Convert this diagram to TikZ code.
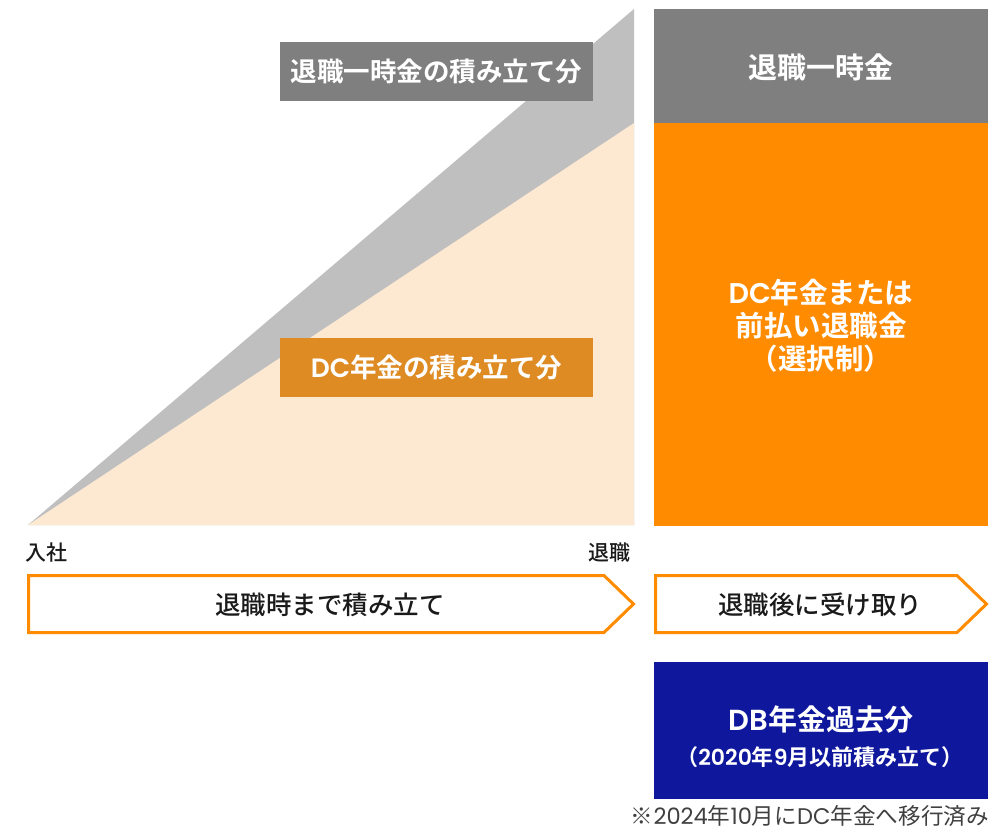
\documentclass[tikz,border=0pt]{standalone}
\usepackage{fontspec}
\newfontfamily\jp{Noto Sans CJK JP}
\newfontfamily\jpm{Noto Sans CJK JP Medium}
\newfontfamily\jpb{Noto Sans CJK JP Bold}
\newfontfamily\lat{Poppins}
\newfontfamily\latb{Poppins SemiBold}
\newcommand{\LM}[1]{{\latb #1}}
\newcommand{\LR}[1]{{\lat #1}}
\definecolor{dgray}{HTML}{7F7F7F}
\definecolor{lgray}{HTML}{BFBFBF}
\definecolor{peach}{HTML}{FDE8D2}
\definecolor{olabel}{HTML}{DE8B24}
\definecolor{obig}{HTML}{FF8C00}
\definecolor{dbblue}{HTML}{0F189C}
\definecolor{notegray}{HTML}{404040}
\definecolor{ink}{HTML}{1A1A1A}
\begin{document}
\begin{tikzpicture}[x=1pt,y=-1pt,
  wtext/.style={text=white,inner sep=0pt,align=center},
  btext/.style={text=ink,inner sep=0pt,align=center},
  arrowshape/.style={draw=obig,line width=3pt,line join=miter,fill=white}]
\useasboundingbox (0,0) rectangle (1003,831);
\fill[white] (0,0) rectangle (1003,831);
% accumulation triangles
\fill[lgray] (28,525) -- (634,9) -- (634,525) -- cycle;
\fill[peach] (28,525) -- (634,123) -- (634,525) -- cycle;
% labels on triangle
\fill[dgray] (280,42) rectangle (593,101);
\node[wtext,font=\jpb\fontsize{26.5}{30}\selectfont] (lumplabel) at (436.5,71.5) {退職一時金の積み立て分};
\fill[olabel] (280,338) rectangle (593,397);
\node[wtext,font=\jpb\fontsize{26.5}{30}\selectfont] (dclabel) at (436.5,367.5) {\LM{DC}年金の積み立て分};
% right column
\fill[dgray] (654,9) rectangle (988,123);
\node[wtext,font=\jpb\fontsize{29}{33}\selectfont] (lumpbox) at (821,67) {退職一時金};
\fill[obig] (654,123) rectangle (988,526);
\node[wtext,font=\jpb\fontsize{28.5}{33}\selectfont] (dcbox) at (821,326) {\LM{DC}年金または\\前払い退職金\\（選択制）};
% timeline labels
\node[btext,font=\jpm\fontsize{21}{24}\selectfont] (join) at (46,553) {入社};
\node[btext,font=\jpm\fontsize{21}{24}\selectfont] (retire) at (609.5,553) {退職};
% arrows
\draw[arrowshape] (28.5,575.5) -- (604,575.5) -- (633.5,604) -- (604,632.5) -- (28.5,632.5) -- cycle;
\node[btext,font=\jpm\fontsize{25.5}{29}\selectfont] (accum) at (330,605) {退職時まで積み立て};
\draw[arrowshape] (655.5,575.5) -- (957,575.5) -- (986.5,604) -- (957,632.5) -- (655.5,632.5) -- cycle;
\node[btext,font=\jpm\fontsize{25.5}{29}\selectfont] (receive) at (820,605) {退職後に受け取り};
% DB box
\fill[dbblue] (654,662) rectangle (988,799);
\node[wtext,font=\jpb\fontsize{29}{33}\selectfont] (dbtitle) at (821,720) {\LM{DB}年金過去分};
\node[wtext,font=\jpb\fontsize{22}{25}\selectfont] (dbsub) at (820,757) {（\LM{2020}年\LM{9}月以前積み立て）};
% footnote
\node[text=notegray,inner sep=0pt,anchor=east,font=\jp\fontsize{22.6}{26}\selectfont] (note) at (989,816) {※\LR{2024}年\LR{10}月に\LR{DC}年金へ移行済み};
\end{tikzpicture}
\end{document}
